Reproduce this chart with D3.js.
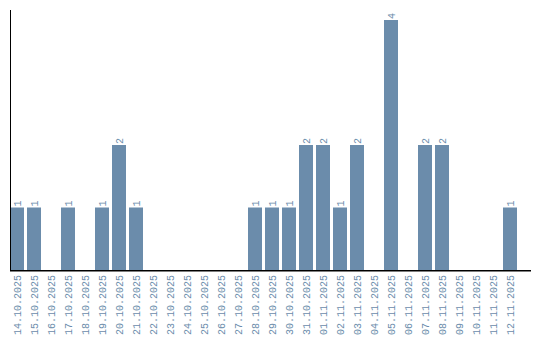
<!DOCTYPE html>
<html>
<head>
<meta charset="utf-8">
<script src="https://cdn.jsdelivr.net/npm/d3@7"></script>
<style>
  body { margin: 0; background: #fff; }
  text { font-family: "Liberation Mono", monospace; font-size: 10px; fill: #6b8cab; }
</style>
</head>
<body>
<svg width="540" height="340"></svg>
<script>
const dates = ['14.10.2025', '15.10.2025', '16.10.2025', '17.10.2025', '18.10.2025',
    '19.10.2025', '20.10.2025', '21.10.2025', '22.10.2025', '23.10.2025',
    '24.10.2025', '25.10.2025', '26.10.2025', '27.10.2025', '28.10.2025',
    '29.10.2025', '30.10.2025', '31.10.2025', '01.11.2025', '02.11.2025',
    '03.11.2025', '04.11.2025', '05.11.2025', '06.11.2025', '07.11.2025',
    '08.11.2025', '09.11.2025', '10.11.2025', '11.11.2025', '12.11.2025'];
const counts = [1, 1, 0, 1, 0, 1, 2, 1, 0, 0, 0, 0, 0, 0, 1,
    1, 1, 2, 2, 1, 2, 0, 4, 0, 2, 2, 0, 0, 0, 1];

const svg = d3.select('svg');
const marginLeft = 10;
const marginTop = 10;
const height = 260;
const barColor = '#6b8cab';

const data = dates.map((d, i) => ({ date: d, value: counts[i] }));

const x = d3.scaleBand()
    .domain(dates)
    .range([0, 507])
    .paddingInner(3 / 17)
    .paddingOuter(0);

const y = d3.scaleLinear()
    .domain([0, d3.max(counts)])
    .range([height, 10]);

const g = svg.append('g')
    .attr('transform', `translate(${marginLeft},${marginTop})`);

g.selectAll('rect.bar')
    .data(data.filter(d => d.value > 0))
    .enter()
    .append('rect')
    .attr('class', 'bar')
    .attr('x', d => x(d.date))
    .attr('y', d => y(d.value))
    .attr('width', x.bandwidth())
    .attr('height', d => height - y(d.value))
    .style('fill', barColor);

// value labels above bars
g.selectAll('text.val')
    .data(data.filter(d => d.value > 0))
    .enter()
    .append('text')
    .attr('class', 'val')
    .attr('transform', d => `translate(${x(d.date) + x.bandwidth() / 2},${y(d.value) - 1}) rotate(-90)`)
    .attr('dy', '.35em')
    .style('text-anchor', 'start')
    .text(d => d.value);

// date labels
g.selectAll('text.date')
    .data(data)
    .enter()
    .append('text')
    .attr('class', 'date')
    .attr('transform', d => `translate(${x(d.date) + x.bandwidth() / 2},${height + 5}) rotate(-90)`)
    .attr('dy', '.35em')
    .style('text-anchor', 'end')
    .text(d => d.date);

// axes lines
g.append('line')
    .attr('x1', 0.5).attr('x2', 0.5)
    .attr('y1', 0).attr('y2', height + 1)
    .style('stroke', '#000');

g.append('line')
    .attr('x1', 0).attr('x2', 521)
    .attr('y1', height + 0.75).attr('y2', height + 0.75)
    .style('stroke', '#000')
    .style('stroke-width', 1.5);
</script>
</body>
</html>
